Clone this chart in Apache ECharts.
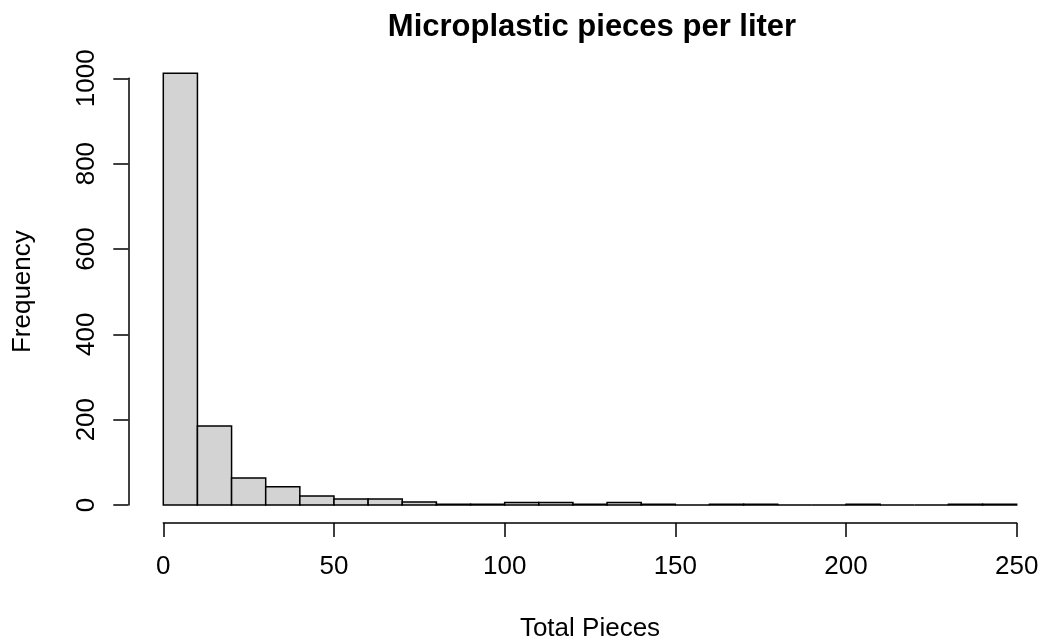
<!DOCTYPE html>
<html>
<head>
<meta charset="utf-8">
<script src="https://cdn.jsdelivr.net/npm/echarts@6/dist/echarts.min.js"></script>
<style>html,body{margin:0;padding:0;background:#fff}#c{width:1040px;height:644px}</style>
</head>
<body>
<div id="c"></div>
<script>
const binStarts = [0,10,20,30,40,50,60,70,80,90,100,110,120,130,140,150,160,170,180,190,200,210,220,230,240];
const binWidth = 10;
const counts = [1012,185,63,43,21,14,14,7,2,2,6,6,2,6,2,0,2,2,0,0,2,0,0,2,2];
const xTicks = [0,50,100,150,200,250];
const yTicks = [0,200,400,600,800,1000];
const FONT = '"Liberation Sans",Arial,sans-serif';

const chart = echarts.init(document.getElementById('c'));
const data = binStarts.map((s,i)=>[s, s+binWidth, counts[i]]);
chart.setOption({
  animation:false,
  backgroundColor:'#fff',
  title:{text:'Microplastic pieces per liter', left:587, textAlign:'center', top:7,
    textStyle:{fontFamily:FONT, fontWeight:'bold', fontSize:31, color:'#000'}},
  grid:{left:163.3, right:23.3, top:78.3, bottom:139, outerBoundsMode:'none', containLabel:false},
  xAxis:{type:'value', min:xTicks[0], max:xTicks[xTicks.length-1], interval:xTicks[1]-xTicks[0], offset:18,
    name:'Total Pieces', nameLocation:'middle', nameGap:93,
    nameTextStyle:{fontFamily:FONT, fontSize:26, color:'#000'},
    axisLine:{show:true, onZero:false, lineStyle:{color:'#000', width:1.5}},
    axisTick:{show:true, length:14, lineStyle:{color:'#000', width:1.5}},
    axisLabel:{fontFamily:FONT, fontSize:26, color:'#000', margin:31, formatter:v=>String(v)},
    splitLine:{show:false}},
  yAxis:{type:'value', min:yTicks[0], max:yTicks[yTicks.length-1], interval:yTicks[1]-yTicks[0], offset:35,
    name:'Frequency', nameLocation:'middle', nameGap:92, nameRotate:90,
    nameTextStyle:{fontFamily:FONT, fontSize:26, color:'#000'},
    axisLine:{show:true, onZero:false, lineStyle:{color:'#000', width:1.5}},
    axisTick:{show:true, length:15, lineStyle:{color:'#000', width:1.5}},
    axisLabel:{fontFamily:FONT, fontSize:26, color:'#000', margin:28, rotate:90, formatter:v=>String(v)},
    splitLine:{show:false}},
  series:[{
    type:'custom', clip:false, data:data,
    encode:{x:[0,1], y:2},
    renderItem:function(params, api){
      const p0 = api.coord([api.value(0), api.value(2)]);
      const p1 = api.coord([api.value(1), 0]);
      return {type:'rect', shape:{x:p0[0], y:p0[1], width:p1[0]-p0[0], height:p1[1]-p0[1]},
        style:{fill:'#d3d3d3', stroke:'#000', lineWidth:1.5}};
    }
  }]
});
</script>
</body>
</html>
